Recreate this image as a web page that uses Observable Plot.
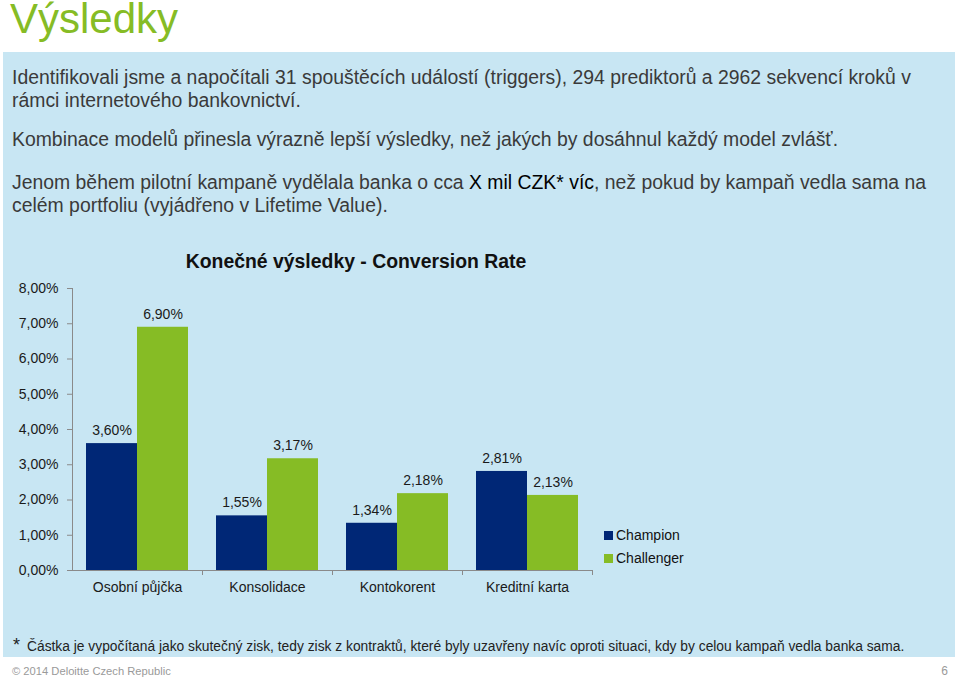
<!DOCTYPE html>
<html>
<head>
<meta charset="utf-8">
<script src="https://cdn.jsdelivr.net/npm/d3@7"></script>
<script src="https://cdn.jsdelivr.net/npm/@observablehq/plot@0.6"></script>
<style>
  html, body { margin: 0; padding: 0; background: #fff; }
  #page { position: relative; width: 960px; height: 680px; overflow: hidden; font-family: "Liberation Sans", Arial, sans-serif; }
  .abs { position: absolute; white-space: nowrap; }
  #title { left: 10px; top: 0px; font-size: 42px; line-height: 37px; color: #86bc25; }
  #panel { left: 3px; top: 52px; width: 952px; height: 605px; background: #c8e6f3; }
  .para { left: 12px; font-size: 19.4px; line-height: 23px; color: #3a3a3a; }
  .para b { font-weight: normal; color: #000; }
  #ctitle { left: 356px; top: 250px; transform: translateX(-50%); font-size: 19.4px; line-height: 22px; font-weight: bold; color: #111; }
  #chart { position: absolute; left: 0; top: 270px; }
  #chart svg text { fill: #1a1a1a; }
  .leg { font-size: 14px; line-height: 16px; color: #111; }
  .sw { display: inline-block; width: 9px; height: 9px; margin-right: 3px; vertical-align: 0px; }
  #star { left: 13px; top: 635px; font-size: 18px; line-height: 20px; color: #222; }
  #foot { left: 27px; top: 639px; font-size: 13.8px; line-height: 16px; color: #222; }
  #copy { left: 12px; top: 663px; font-size: 11.2px; line-height: 16px; color: #9a9a9a; }
  #pnum { right: 12px; top: 663px; font-size: 12px; line-height: 16px; color: #9a9a9a; }
</style>
</head>
<body>
<div id="page">
  <div class="abs" id="title">Výsledky</div>
  <div class="abs" id="panel"></div>
  <div class="abs para" style="top:66px">Identifikovali jsme a napočítali 31 spouštěcích událostí (triggers), 294 prediktorů a 2962 sekvencí kroků v<br>rámci internetového bankovnictví.</div>
  <div class="abs para" style="top:128px">Kombinace modelů přinesla výrazně lepší výsledky, než jakých by dosáhnul každý model zvlášť.</div>
  <div class="abs para" style="top:171px">Jenom během pilotní kampaně vydělala banka o cca <b>X mil CZK* víc</b>, než pokud by kampaň vedla sama na<br>celém portfoliu (vyjádřeno v Lifetime Value).</div>
  <div class="abs" id="ctitle">Konečné výsledky - Conversion Rate</div>
  <div id="chart"></div>
  <div class="abs leg" style="left:604px; top:527px"><span class="sw" style="background:#002776"></span>Champion</div>
  <div class="abs leg" style="left:604px; top:550px"><span class="sw" style="background:#86bc25"></span>Challenger</div>
  <div class="abs" id="star">*</div>
  <div class="abs" id="foot">Částka je vypočítaná jako skutečný zisk, tedy zisk z kontraktů, které byly uzavřeny navíc oproti situaci, kdy by celou kampaň vedla banka sama.</div>
  <div class="abs" id="copy">© 2014 Deloitte Czech Republic</div>
  <div class="abs" id="pnum">6</div>
</div>
<script>
const categories = ["Osobní půjčka", "Konsolidace", "Kontokorent", "Kreditní karta"];
const series = ["Champion", "Challenger"];
const championValues = [3.60, 1.55, 1.34, 2.81];
const challengerValues = [6.90, 3.17, 2.18, 2.13];
const yTicks = [0, 1, 2, 3, 4, 5, 6, 7, 8];
const seriesColors = ["#002776", "#86bc25"];

const fmt = v => v.toFixed(2).replace(".", ",") + "%";

const rows = [];
categories.forEach((c, i) => {
  rows.push({category: c, series: series[0], value: championValues[i]});
  rows.push({category: c, series: series[1], value: challengerValues[i]});
});

const W = 610, H = 340, ML = 72, MR = 18;
const bandHalf = (W - ML - MR) / categories.length / 2;

const chart = Plot.plot({
  width: W,
  height: H,
  marginLeft: ML,
  marginRight: MR,
  marginTop: 18,
  marginBottom: 40,
  style: {background: "transparent", fontFamily: "'Liberation Sans', Arial, sans-serif", fontSize: "14px", color: "#8a8a8a", overflow: "visible"},
  fx: {domain: categories, padding: 0, label: null},
  x: {domain: series, paddingInner: 0, paddingOuter: 0.26, axis: null},
  y: {domain: [0, 8], label: null},
  color: {domain: series, range: seriesColors},
  marks: [
    Plot.frame({anchor: "left", stroke: "#8a8a8a", facet: "super"}),
    Plot.axisY({ticks: yTicks, tickFormat: fmt, tickSize: 5, tickPadding: 9, label: null}),
    Plot.axisFx({anchor: "bottom", tickSize: 0, tickPadding: 12, label: null}),
    Plot.axisFx({anchor: "bottom", tickSize: 5, tickFormat: () => "", dx: bandHalf, label: null}),
    Plot.barY(rows, {fx: "category", x: "series", y: "value", fill: "series", inset: 0}),
    Plot.text(rows, {fx: "category", x: "series", y: "value", text: d => fmt(d.value), dy: -13, fill: "#1a1a1a", fontSize: 14}),
    Plot.ruleY([0], {stroke: "#8a8a8a"})
  ]
});
document.getElementById("chart").appendChild(chart);
</script>
</body>
</html>
